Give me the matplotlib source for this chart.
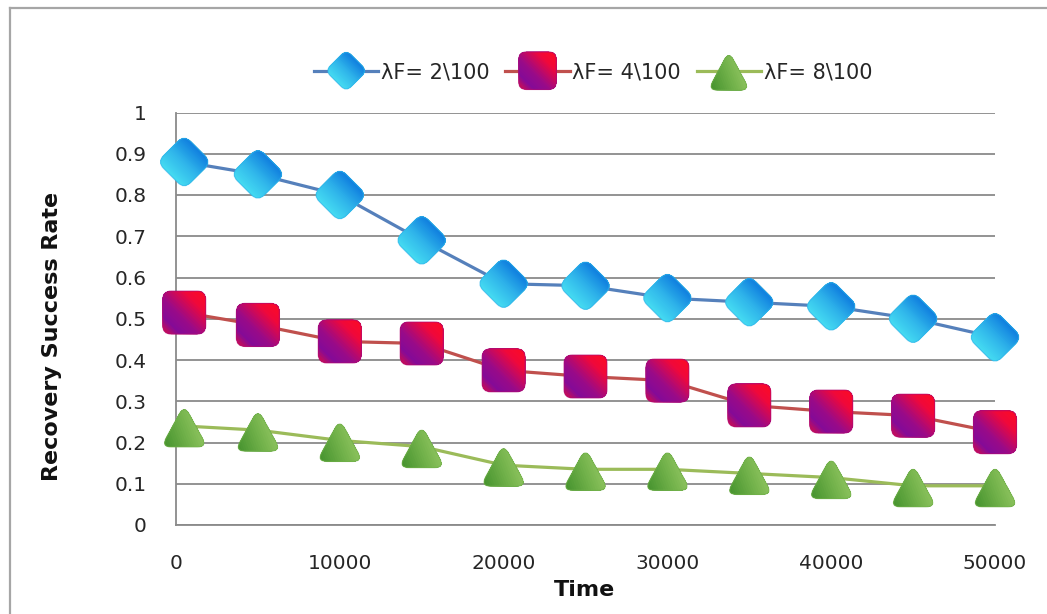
import numpy as np
import matplotlib
matplotlib.use("Agg")
import matplotlib.pyplot as plt
from matplotlib.path import Path
from matplotlib.patches import PathPatch, Polygon
from matplotlib.transforms import Affine2D, ScaledTranslation
from matplotlib.legend_handler import HandlerBase
from matplotlib.lines import Line2D
from matplotlib.colors import LinearSegmentedColormap

# ---- data -------------------------------------------------------------
time = [500, 5000, 10000, 15000, 20000, 25000, 30000, 35000, 40000, 45000, 50000]
rate_2 = [0.88, 0.85, 0.80, 0.69, 0.585, 0.58, 0.55, 0.54, 0.53, 0.50, 0.455]
rate_4 = [0.515, 0.485, 0.445, 0.44, 0.375, 0.36, 0.35, 0.29, 0.275, 0.265, 0.225]
rate_8 = [0.24, 0.23, 0.205, 0.19, 0.145, 0.135, 0.135, 0.125, 0.115, 0.095, 0.095]
series_labels = ["λF= 2\\100", "λF= 4\\100", "λF= 8\\100"]
x_ticks = [0, 10000, 20000, 30000, 40000, 50000]
x_tick_labels = ["0", "10000", "20000", "30000", "40000", "50000"]
y_ticks = [0, 0.1, 0.2, 0.3, 0.4, 0.5, 0.6, 0.7, 0.8, 0.9, 1.0]
y_tick_labels = ["0", "0.1", "0.2", "0.3", "0.4", "0.5", "0.6", "0.7", "0.8", "0.9", "1"]

plt.rcParams["font.family"] = ["DejaVu Sans"]

W, H, DPI = 1047, 614, 100
fig = plt.figure(figsize=(W / DPI, H / DPI), dpi=DPI)
fig.patch.set_facecolor("white")


def rounded_polygon(verts, frac):
    """Closed polygon path whose corners are rounded with quadratic curves."""
    verts = np.asarray(verts, float)
    n = len(verts)
    pts, codes = [], []
    for i in range(n):
        prev, cur, nxt = verts[i - 1], verts[i], verts[(i + 1) % n]
        a = cur + (prev - cur) * frac
        b = cur + (nxt - cur) * frac
        pts.append(a)
        codes.append(Path.MOVETO if i == 0 else Path.LINETO)
        pts += [cur, b]
        codes += [Path.CURVE3, Path.CURVE3]
    pts.append(pts[0])
    codes.append(Path.CLOSEPOLY)
    return Path(pts, codes)


DIAMOND = rounded_polygon([(0, 1), (1, 0), (0, -1), (-1, 0)], 0.24)
SQUARE = rounded_polygon([(-1, -1), (1, -1), (1, 1), (-1, 1)], 0.2)
TRIANGLE = rounded_polygon([(-1, -1), (1, -1), (0, 1)], 0.22)

cmap_blue = LinearSegmentedColormap.from_list("blue", ["#45dcf2", "#2fb4ea", "#0f7edf"])
cmap_red = LinearSegmentedColormap.from_list(
    "red", [(0.0, "#e0103e"), (0.2, "#840a98"), (0.42, "#9a0a88"),
            (0.75, "#f0083a"), (1.0, "#ff0a22")])
cmap_green = LinearSegmentedColormap.from_list("green", ["#3f8e2a", "#74b34c", "#a9d370"])


def gradient_marker(path, trans, cmap, direction, n=26, zorder=3):
    """Marker filled with a linear gradient, built from clipped bands."""
    d = np.asarray(direction, float)
    d /= np.linalg.norm(d)
    p = np.array([-d[1], d[0]])
    ext = np.abs(path.vertices @ d).max()
    base = PathPatch(path, transform=trans, facecolor=cmap(0.5),
                     edgecolor="none", lw=0, zorder=zorder)
    base.set_clip_on(False)
    arts = [base]
    for k, t in enumerate(np.linspace(-ext, ext, n + 1)[:-1]):
        quad = [t * d - 3 * p, (ext + 1) * d - 3 * p, (ext + 1) * d + 3 * p, t * d + 3 * p]
        band = Polygon(quad, closed=True, transform=trans, facecolor=cmap((k + 0.5) / n),
                       edgecolor="none", lw=0, zorder=zorder)
        band.set_clip_path(base)
        arts.append(band)
    rim = PathPatch(path, transform=trans, facecolor="none",
                    edgecolor=cmap(0.5), lw=0.9, alpha=0.55, zorder=zorder)
    rim.set_clip_on(False)
    arts.append(rim)
    return arts


series = [
    dict(y=rate_2, label=series_labels[0], line="#5580bb", path=DIAMOND,
         size=(27, 27), cmap=cmap_blue, dirn=(1, 1), leg=(15, 15)),
    dict(y=rate_4, label=series_labels[1], line="#c0504d", path=SQUARE,
         size=(21.5, 21.5), cmap=cmap_red, dirn=(1, 1), leg=(13.5, 13.5)),
    dict(y=rate_8, label=series_labels[2], line="#9bbb59", path=TRIANGLE,
         size=(23, 21), cmap=cmap_green, dirn=(1, 0.35), leg=(15, 14)),
]

# ---- axes ---------------------------------------------------------------
x0, x1, ytop, ybot = 176, 995, 112.5, 525
ax = fig.add_axes([x0 / W, 1 - ybot / H, (x1 - x0) / W, (ybot - ytop) / H])
ax.set_xlim(0, 50000)
ax.set_ylim(0, 1)
ax.set_facecolor("none")

for s in ("top", "right"):
    ax.spines[s].set_visible(False)
for s in ("left", "bottom"):
    ax.spines[s].set_color("#8a8a8a")
    ax.spines[s].set_linewidth(1.3)

ax.set_yticks(y_ticks)
ax.set_yticklabels(y_tick_labels)
ax.set_xticks(x_ticks)
ax.set_xticklabels(x_tick_labels)
ax.tick_params(axis="y", length=0, pad=21, labelsize=14.5, labelcolor="#262626")
ax.tick_params(axis="x", length=0, pad=21, labelsize=14.5, labelcolor="#262626")
ax.yaxis.grid(True, color="#8a8a8a", linewidth=1.3)
ax.set_axisbelow(True)

z = 3
for s in series:
    ax.plot(time, s["y"], color=s["line"], lw=2.3, zorder=z, clip_on=False,
            solid_joinstyle="round")
    for xv, yv in zip(time, s["y"]):
        trans = (Affine2D().scale(*s["size"]) +
                 ScaledTranslation(xv, yv, ax.transData))
        for a in gradient_marker(s["path"], trans, s["cmap"], s["dirn"], zorder=z + 0.5):
            ax.add_artist(a)
    z += 1

# ---- legend -------------------------------------------------------------
class GradientHandler(HandlerBase):
    def __init__(self, spec):
        super().__init__()
        self.spec = spec

    def create_artists(self, legend, orig_handle, xdescent, ydescent,
                       width, height, fontsize, trans):
        yc = height / 2 - ydescent
        line = Line2D([-xdescent, width - xdescent], [yc, yc],
                      color=self.spec["line"], lw=2.3, transform=trans)
        cx = width / 2 - xdescent
        mtrans = Affine2D().scale(*self.spec["leg"]).translate(cx, yc) + trans
        return [line] + gradient_marker(self.spec["path"], mtrans,
                                        self.spec["cmap"], self.spec["dirn"])


handles = [Line2D([], [], color=s["line"]) for s in series]
hmap = {h: GradientHandler(s) for h, s in zip(handles, series)}
fig.legend(handles, [s["label"] for s in series], handler_map=hmap,
           loc="center", bbox_to_anchor=(593 / W, 1 - 72 / H), ncol=3,
           frameon=False, fontsize=15, handlelength=3.1, handletextpad=0.12,
           columnspacing=0.75, labelcolor="#262626")

# ---- axis titles ----------------------------------------------------------
fig.text(52 / W, 1 - 336 / H, "Recovery Success Rate", rotation=90,
         ha="center", va="center", fontsize=16, fontweight="bold", color="#111111")
fig.text(585 / W, 1 - 590 / H, "Time", ha="center", va="center",
         fontsize=16, fontweight="bold", color="#111111")

# ---- outer chart border ------------------------------------------------------
fig.add_artist(Line2D([10 / W, 10 / W], [0, 1 - 8 / H], transform=fig.transFigure,
                      color="#a6a6a6", lw=1.6))
fig.add_artist(Line2D([10 / W, 1], [1 - 8 / H, 1 - 8 / H], transform=fig.transFigure,
                      color="#a6a6a6", lw=1.6))

fig.savefig("out.png", dpi=DPI, facecolor="white")
